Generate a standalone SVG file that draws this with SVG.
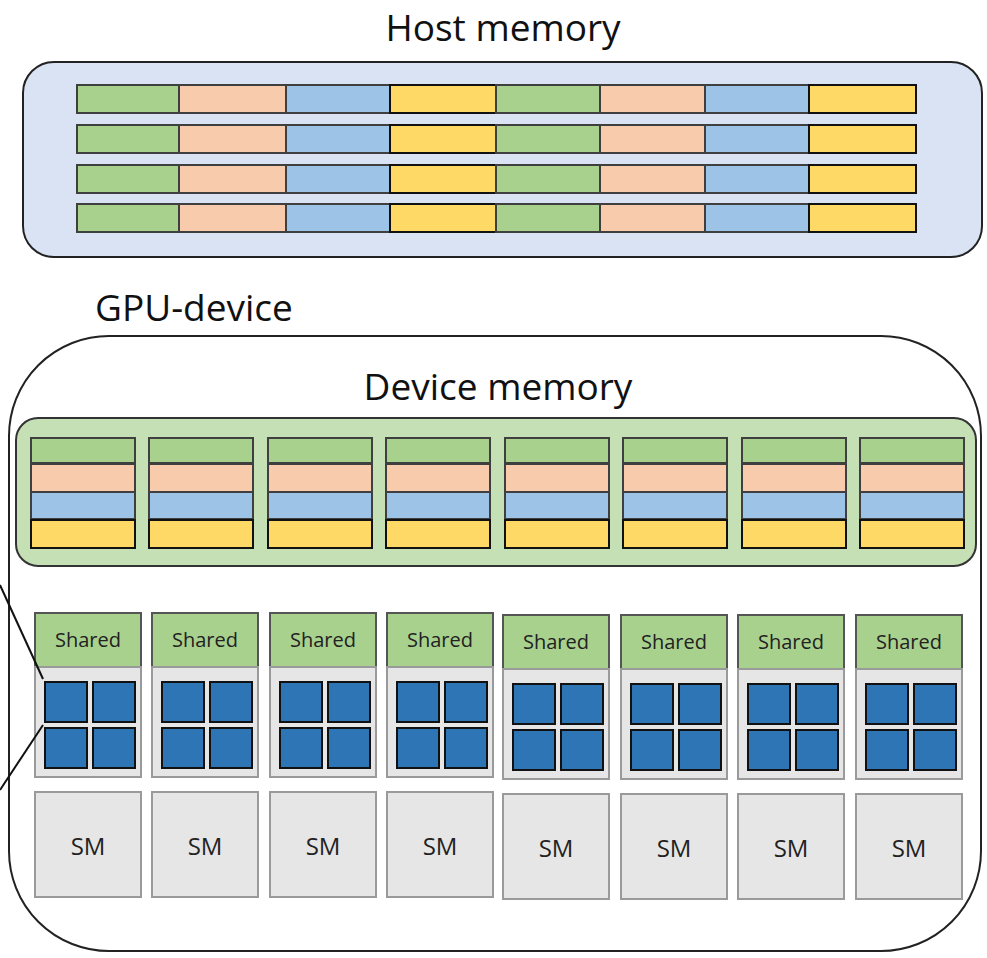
<svg xmlns="http://www.w3.org/2000/svg" width="987" height="958" viewBox="0 0 987 958">
<style>
.title{font-family:"Open Sans","Liberation Sans",sans-serif;font-size:37px;fill:#111;}
.lbl{font-family:"Open Sans","Liberation Sans",sans-serif;font-size:20px;fill:#222;text-anchor:middle;}
.sm{font-family:"Open Sans","Liberation Sans",sans-serif;font-size:24px;fill:#222;text-anchor:middle;}
.g{fill:#a9d18e;stroke:#3f3f3f;stroke-width:2;}
.o{fill:#f8cbad;stroke:#3f3f3f;stroke-width:2;}
.b{fill:#9dc3e6;stroke:#3f3f3f;stroke-width:2;}
.y{fill:#ffd966;stroke:#111;stroke-width:2;}
.sh{fill:#a9d18e;stroke:#555;stroke-width:2;}
.gr{fill:#e7e6e6;stroke:#9a9a9a;stroke-width:2;}
.core{fill:#2e75b6;stroke:#111;stroke-width:2;}
.conn{stroke:#111;stroke-width:2;fill:none;}
</style>
<defs>
<g id="hrow">
<rect class="g" x="0" y="0" width="102" height="28"/>
<rect class="o" x="102" y="0" width="107" height="28"/>
<rect class="b" x="209" y="0" width="104" height="28"/>
<rect class="y" x="313" y="0" width="106" height="28"/>
<rect class="g" x="419" y="0" width="104" height="28"/>
<rect class="o" x="523" y="0" width="105" height="28"/>
<rect class="b" x="628" y="0" width="104" height="28"/>
<rect class="y" x="732" y="0" width="107" height="28"/>
</g>
<g id="dcol">
<rect class="g" x="0" y="0" width="104" height="25"/>
<rect class="o" x="0" y="26" width="104" height="28"/>
<rect class="b" x="0" y="54" width="104" height="27"/>
<rect class="y" x="0" y="82" width="104" height="28"/>
</g>
<g id="sm">
<rect class="sh" x="0" y="0" width="106" height="54"/>
<text class="lbl" x="53" y="34">Shared</text>
<rect class="gr" x="0" y="54" width="106" height="110"/>
<rect class="core" x="10" y="69" width="42" height="40"/>
<rect class="core" x="58" y="69" width="42" height="40"/>
<rect class="core" x="10" y="115" width="42" height="40"/>
<rect class="core" x="58" y="115" width="42" height="40"/>
<rect class="gr" x="0" y="179" width="106" height="105"/>
<text class="sm" x="53" y="242">SM</text>
</g>
</defs>

<g id="host-memory">
<text class="title" x="503" y="41" text-anchor="middle">Host memory</text>
<rect x="23" y="62" width="959" height="195" rx="31" fill="#dae3f3" stroke="#222" stroke-width="2"/>
<use href="#hrow" x="77" y="85"/>
<use href="#hrow" x="77" y="125"/>
<use href="#hrow" x="77" y="165"/>
<use href="#hrow" x="77" y="204"/>
</g>

<g id="gpu-device">
<text class="title" x="95" y="321">GPU-device</text>
<rect x="9" y="336" width="972" height="615" rx="100" fill="#fff" stroke="#222" stroke-width="2"/>
</g>

<g id="device-memory">
<text class="title" x="498" y="400" text-anchor="middle">Device memory</text>
<rect x="16" y="418" width="960" height="148" rx="22" fill="#c5e0b4" stroke="#333" stroke-width="2"/>
<use href="#dcol" x="31" y="438"/>
<use href="#dcol" x="149" y="438"/>
<use href="#dcol" x="268" y="438"/>
<use href="#dcol" x="386" y="438"/>
<use href="#dcol" x="505" y="438"/>
<use href="#dcol" x="623" y="438"/>
<use href="#dcol" x="742" y="438"/>
<use href="#dcol" x="860" y="438"/>
</g>

<g id="sm1"><use href="#sm" x="35" y="613"/></g>
<g id="sm2"><use href="#sm" x="152" y="613"/></g>
<g id="sm3"><use href="#sm" x="270" y="613"/></g>
<g id="sm4"><use href="#sm" x="387" y="613"/></g>
<g id="sm5"><use href="#sm" x="503" y="615"/></g>
<g id="sm6"><use href="#sm" x="621" y="615"/></g>
<g id="sm7"><use href="#sm" x="738" y="615"/></g>
<g id="sm8"><use href="#sm" x="856" y="615"/></g>

<g id="connectors">
<line class="conn" x1="0" y1="585" x2="43" y2="679"/>
<line class="conn" x1="43" y1="725" x2="0" y2="790"/>
</g>
</svg>
